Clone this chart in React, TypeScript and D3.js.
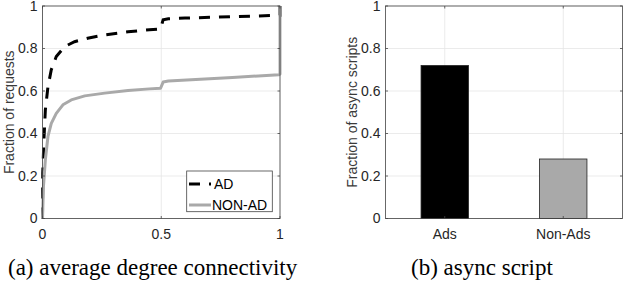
import * as d3 from 'd3';

// CDF of average degree connectivity
const adX = [0, 0.0, 0.001, 0.006, 0.012, 0.023, 0.037, 0.058, 0.093, 0.135, 0.19, 0.262, 0.36, 0.45, 0.497, 0.508, 0.53, 0.6, 0.8, 1.0, 1.0];
const adY = [0, 0.025, 0.213, 0.37, 0.511, 0.62, 0.7, 0.762, 0.809, 0.832, 0.848, 0.864, 0.879, 0.888, 0.892, 0.935, 0.94, 0.943, 0.95, 0.956, 1.0];

const nonAdX = [0, 0.004, 0.012, 0.023, 0.037, 0.058, 0.086, 0.121, 0.178, 0.262, 0.36, 0.45, 0.497, 0.508, 0.53, 0.8, 0.995, 1.0, 1.0];
const nonAdY = [0, 0.15, 0.276, 0.386, 0.448, 0.495, 0.535, 0.558, 0.577, 0.59, 0.602, 0.61, 0.613, 0.642, 0.647, 0.664, 0.676, 0.68, 1.0];

// async script fractions
const categories = ['Ads', 'Non-Ads'];
const asyncValues = [0.72, 0.28];
const barColors = ['#000000', '#a9a9a9'];

const yTicks = [0, 0.2, 0.4, 0.6, 0.8, 1];
const xTicksA = [0, 0.5, 1];

const FONT = 'Liberation Sans, Arial, Helvetica, sans-serif';
const SERIF = 'Liberation Serif, Times New Roman, serif';
const AXIS = '#444';
const GRID = '#e6e6e6';
const TEXT = '#262626';

export default function App() {
  const x = d3.scaleLinear().domain([0, 1]).range([42.5, 280]);
  const y = d3.scaleLinear().domain([0, 1]).range([218.5, 6]);
  const xb = d3.scaleLinear().domain([0.5, 2.5]).range([385.5, 622.5]);

  const line = d3
    .line<[number, number]>()
    .x((d) => x(d[0]))
    .y((d) => y(d[1]));

  const adPts = adX.map((v, i) => [v, adY[i]] as [number, number]);
  const nonAdPts = nonAdX.map((v, i) => [v, nonAdY[i]] as [number, number]);

  const tickLen = 2.5;
  // bar width of 0.4 category units
  const barW = xb(1.4) - xb(1);

  return (
    <div style={{ position: 'absolute', left: 0, top: 0 }}>
      <svg width={624} height={286} style={{ display: 'block', background: '#fff' }}>
        {/* ---------- (a) ---------- */}
        <g>
          {yTicks.map((t) => (
            <line key={'gy' + t} x1={x(0)} x2={x(1)} y1={y(t)} y2={y(t)} stroke={GRID} strokeWidth={0.8} />
          ))}
          {xTicksA.map((t) => (
            <line key={'gx' + t} x1={x(t)} x2={x(t)} y1={y(0)} y2={y(1)} stroke={GRID} strokeWidth={0.8} />
          ))}
          <path d={line(adPts) || ''} fill="none" stroke="#000" strokeWidth={3} strokeDasharray="11 9" />
          <path d={line(nonAdPts) || ''} fill="none" stroke="#a9a9a9" strokeWidth={3} strokeLinejoin="round" />
          <rect x={x(0)} y={y(1)} width={x(1) - x(0)} height={y(0) - y(1)} fill="none" stroke={AXIS} strokeWidth={0.8} />
          {yTicks.map((t) => (
            <g key={'ty' + t}>
              <line x1={x(0)} x2={x(0) + tickLen} y1={y(t)} y2={y(t)} stroke={AXIS} strokeWidth={0.8} />
              <line x1={x(1)} x2={x(1) - tickLen} y1={y(t)} y2={y(t)} stroke={AXIS} strokeWidth={0.8} />
              <text x={x(0) - 5} y={y(t) + 4.5} textAnchor="end" fontFamily={FONT} fontSize={14} fill={TEXT}>
                {t}
              </text>
            </g>
          ))}
          {xTicksA.map((t) => (
            <g key={'tx' + t}>
              <line x1={x(t)} x2={x(t)} y1={y(0)} y2={y(0) - tickLen} stroke={AXIS} strokeWidth={0.8} />
              <line x1={x(t)} x2={x(t)} y1={y(1)} y2={y(1) + tickLen} stroke={AXIS} strokeWidth={0.8} />
              <text x={x(t)} y={239} textAnchor="middle" fontFamily={FONT} fontSize={14} fill={TEXT}>
                {t}
              </text>
            </g>
          ))}
          <text
            transform={`translate(14,${(y(0) + y(1)) / 2}) rotate(-90)`}
            textAnchor="middle"
            fontFamily={FONT}
            fontSize={14}
            fill="#3a3a3a"
          >
            Fraction of requests
          </text>
          {/* legend */}
          <rect x={186.7} y={171} width={85.6} height={40.7} fill="#fff" stroke={AXIS} strokeWidth={0.8} />
          <line x1={189} x2={211} y1={184} y2={184} stroke="#000" strokeWidth={3} strokeDasharray="11 9" />
          <line x1={189} x2={211} y1={205} y2={205} stroke="#a9a9a9" strokeWidth={3} />
          <text x={214} y={189} fontFamily={FONT} fontSize={14} fill="#000">AD</text>
          <text x={212} y={210} fontFamily={FONT} fontSize={14} fill="#000">NON-AD</text>
        </g>

        {/* ---------- (b) ---------- */}
        <g>
          {yTicks.map((t) => (
            <line key={'bgy' + t} x1={xb(0.5)} x2={xb(2.5)} y1={y(t)} y2={y(t)} stroke={GRID} strokeWidth={0.8} />
          ))}
          {categories.map((c, i) => (
            <line key={'bgx' + c} x1={xb(i + 1)} x2={xb(i + 1)} y1={y(0)} y2={y(1)} stroke={GRID} strokeWidth={0.8} />
          ))}
          {categories.map((c, i) => (
            <rect
              key={'bar' + c}
              x={xb(i + 1) - barW / 2}
              y={y(asyncValues[i])}
              width={barW}
              height={y(0) - y(asyncValues[i])}
              fill={barColors[i]}
              stroke="#222"
              strokeWidth={0.8}
            />
          ))}
          <rect x={xb(0.5)} y={y(1)} width={xb(2.5) - xb(0.5)} height={y(0) - y(1)} fill="none" stroke={AXIS} strokeWidth={0.8} />
          {yTicks.map((t) => (
            <g key={'bty' + t}>
              <line x1={xb(0.5)} x2={xb(0.5) + tickLen} y1={y(t)} y2={y(t)} stroke={AXIS} strokeWidth={0.8} />
              <line x1={xb(2.5)} x2={xb(2.5) - tickLen} y1={y(t)} y2={y(t)} stroke={AXIS} strokeWidth={0.8} />
              <text x={xb(0.5) - 5} y={y(t) + 4.5} textAnchor="end" fontFamily={FONT} fontSize={14} fill={TEXT}>
                {t}
              </text>
            </g>
          ))}
          {categories.map((c, i) => (
            <g key={'btx' + c}>
              <line x1={xb(i + 1)} x2={xb(i + 1)} y1={y(0)} y2={y(0) - tickLen} stroke={AXIS} strokeWidth={0.8} />
              <line x1={xb(i + 1)} x2={xb(i + 1)} y1={y(1)} y2={y(1) + tickLen} stroke={AXIS} strokeWidth={0.8} />
              <text x={xb(i + 1)} y={239} textAnchor="middle" fontFamily={FONT} fontSize={14} fill={TEXT}>
                {c}
              </text>
            </g>
          ))}
          <text
            transform={`translate(357,${(y(0) + y(1)) / 2}) rotate(-90)`}
            textAnchor="middle"
            fontFamily={FONT}
            fontSize={14}
            fill="#3a3a3a"
          >
            Fraction of async scripts
          </text>
        </g>

        {/* captions */}
        <text x={8} y={275} fontFamily={SERIF} fontSize={23} fill="#000">
          (a) average degree connectivity
        </text>
        <text x={411} y={275} fontFamily={SERIF} fontSize={23} fill="#000">
          (b) async script
        </text>
      </svg>
    </div>
  );
}
